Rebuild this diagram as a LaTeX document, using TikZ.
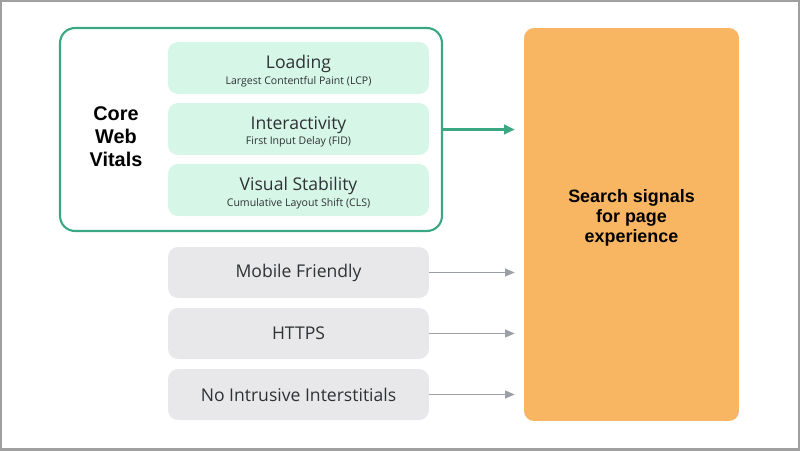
\documentclass[tikz,border=0pt]{standalone}
\usepackage{fontspec}
\setmainfont{Open Sans}
\newfontfamily\arialf{Liberation Sans}
\usetikzlibrary{arrows.meta,calc}
\definecolor{cwvgreen}{HTML}{3AA882}
\definecolor{mintfill}{HTML}{D6F6E8}
\definecolor{greyfill}{HTML}{E8E8EA}
\definecolor{greyarrow}{HTML}{9AA0A6}
\definecolor{orangefill}{HTML}{F9B662}
\definecolor{textdark}{HTML}{2E3235}
\definecolor{framegrey}{HTML}{A0A0A0}
\tikzset{
  px/.style={x=0.02cm,y=-0.02cm},
  mintbox/.style={rectangle,rounded corners=0.2cm,fill=mintfill,minimum width=5.22cm,minimum height=1.04cm,inner sep=0pt,align=center,text=textdark},
  greybox/.style={rectangle,rounded corners=0.2cm,fill=greyfill,minimum width=5.22cm,minimum height=1.02cm,inner sep=0pt,align=center,text=textdark,font=\fontsize{10}{12}\selectfont},
  boxtext/.style={inner sep=0pt,align=center,text=textdark},
  garrow/.style={draw=cwvgreen,line width=1.2pt,-{Triangle[length=6pt,width=5.5pt]}},
  grarrow/.style={draw=greyarrow,line width=0.9pt,-{Triangle[length=5.5pt,width=4.5pt]}}
}
\newcommand{\boxtitle}[2]{{\fontsize{10}{12}\selectfont #1}\\[-3.2pt]{\fontsize{6}{7}\selectfont #2}}
\begin{document}
\begin{tikzpicture}[px]
\useasboundingbox (0,0) rectangle (800,450);
\draw[framegrey,line width=1.2pt] (0.5,0.5) rectangle (799.5,449.5);
% core web vitals container
\node[draw=cwvgreen,line width=1.2pt,rounded corners=0.3cm,minimum width=7.64cm,minimum height=4.06cm,inner sep=0pt] (cwv) at (251,129.5) {};
\node[font=\arialf\bfseries\fontsize{11.3}{13}\selectfont,align=center,text=black] (cwvlabel) at (116,137) {Core\\Web\\Vitals};
\node[mintbox] (load) at (298.5,68) {};
\node[mintbox] (inter) at (298.5,129) {};
\node[mintbox] (vis) at (298.5,190) {};
\node[boxtext] (loadt) at ($(load)+(0,3)$) {\boxtitle{Loading}{Largest Contentful Paint (LCP)}};
\node[boxtext] (intert) at ($(inter)+(0,3)$) {\boxtitle{Interactivity}{First Input Delay (FID)}};
\node[boxtext] (vist) at ($(vis)+(0,3)$) {\boxtitle{Visual Stability}{Cumulative Layout Shift (CLS)}};
% other signals
\node[greybox] (mob) at (298.5,272.5) {Mobile Friendly};
\node[greybox] (https) at (298.5,333.5) {HTTPS};
\node[greybox] (nii) at (298.5,394.5) {No Intrusive Interstitials};
% result
\node[rectangle,rounded corners=0.2cm,fill=orangefill,minimum width=4.3cm,minimum height=7.86cm,inner sep=0pt] (search) at (631.5,224.5) {};
\node[font=\arialf\bfseries\fontsize{10.2}{11.5}\selectfont,align=center,text=black] (searchlabel) at (631.5,218) {Search signals\\for page\\experience};
% arrows
\draw[garrow] (cwv.east) -- ($(search.west |- cwv.east)+(-9,0)$);
\draw[grarrow] (mob.east) -- ($(search.west |- mob.east)+(-9,0)$);
\draw[grarrow] (https.east) -- ($(search.west |- https.east)+(-9,0)$);
\draw[grarrow] (nii.east) -- ($(search.west |- nii.east)+(-9,0)$);
\end{tikzpicture}
\end{document}
